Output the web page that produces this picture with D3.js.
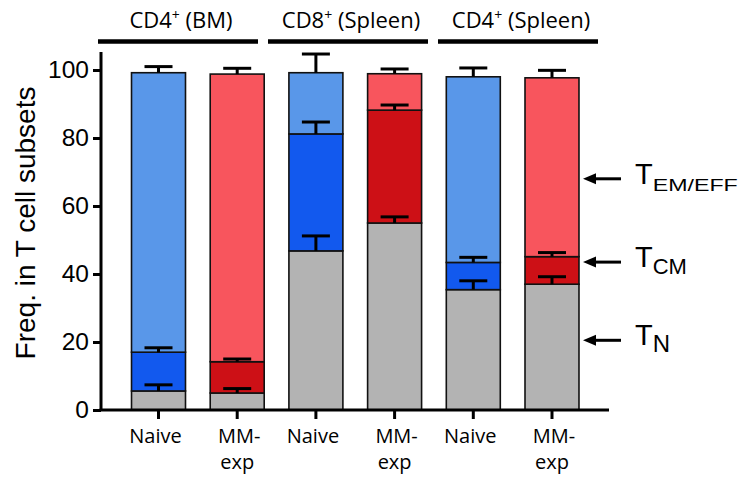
<!DOCTYPE html>
<html>
<head>
<meta charset="utf-8">
<script src="https://cdn.jsdelivr.net/npm/d3@7"></script>
<style>
  body { margin: 0; background: #fff; }
  svg { display: block; }
</style>
</head>
<body>
<svg id="chart" width="742" height="478"></svg>
<script>
// groups and bars
const groups = ['CD4', 'CD8', 'CD4'];
const groupTissue = ['(BM)', '(Spleen)', '(Spleen)'];
const conditions = ['Naive', 'MM-exp', 'Naive', 'MM-exp', 'Naive', 'MM-exp'];

// segment sizes (%), bottom to top: T_N, T_CM, T_EM/EFF
const tn = [5.6, 5.0, 46.8, 55.0, 35.4, 37.0];
const tcm = [11.4, 9.2, 34.4, 33.2, 8.0, 8.1];
const tem = [82.2, 84.6, 18.0, 10.7, 54.6, 52.6];
// error (SEM) on each segment top
const tnErr = [1.8, 1.3, 4.4, 1.8, 2.6, 2.2];
const tcmErr = [1.3, 0.8, 3.5, 1.5, 1.5, 1.2];
const temErr = [1.8, 1.7, 5.5, 1.4, 2.6, 2.2];

const yTicks = [0, 20, 40, 60, 80, 100];
const subsetLabels = [['T', 'EM/EFF'], ['T', 'CM'], ['T', 'N']];
const subsetArrowAt = [68, 43.5, 20.5];

const svg = d3.select('#chart');

const x = d3.scaleBand()
    .domain(d3.range(conditions.length))
    .range([106.8, 603.7])
    .padding(0.314);

// header bars above each group
const gx = d3.scaleBand()
    .domain(d3.range(groups.length))
    .range([98, 598])
    .paddingInner(10 / 170);

const y = d3.scaleLinear()
    .domain([0, 100])
    .range([410, 70]);

const colors = {
    Naive: ['#b3b3b3', '#1259ee', '#5997e9'],
    'MM-exp': ['#b3b3b3', '#cd1016', '#f8555d']
};

// stacked data
const rows = conditions.map((c, i) => ({
    i: i, cond: c,
    vals: [tn[i], tcm[i], tem[i]],
    errs: [tnErr[i], tcmErr[i], temErr[i]]
}));
const segs = [];
rows.forEach(r => {
    let base = 0;
    r.vals.forEach((v, k) => {
        segs.push({ i: r.i, k: k, y0: base, y1: base + v, err: r.errs[k], color: colors[r.cond][k] });
        base += v;
    });
});

// bars
svg.append('g')
    .selectAll('rect')
    .data(segs)
    .enter()
    .append('rect')
    .attr('x', d => x(d.i))
    .attr('width', x.bandwidth())
    .attr('y', d => y(d.y1))
    .attr('height', d => y(d.y0) - y(d.y1))
    .attr('fill', d => d.color)
    .attr('stroke', '#111')
    .attr('stroke-width', 1.6);

// error bars (upper only)
const eb = svg.append('g').attr('stroke', '#000').attr('stroke-width', 3);
segs.forEach(d => {
    const cx = x(d.i) + x.bandwidth() / 2;
    eb.append('line')
        .attr('x1', cx).attr('x2', cx)
        .attr('y1', y(d.y1)).attr('y2', y(d.y1 + d.err));
    eb.append('line')
        .attr('x1', cx - 14).attr('x2', cx + 14)
        .attr('y1', y(d.y1 + d.err)).attr('y2', y(d.y1 + d.err));
});

// y axis
const yAxis = svg.append('g')
    .attr('transform', 'translate(101,0)')
    .call(d3.axisLeft(y).tickValues(yTicks).tickSize(8).tickPadding(4));
yAxis.select('.domain').attr('stroke-width', 3).attr('d', `M0,${y(0)}V52`);
yAxis.selectAll('.tick line').attr('stroke-width', 3);
yAxis.selectAll('.tick text')
    .attr('font-family', 'Liberation Sans, Arial, sans-serif')
    .attr('font-size', 24.5)
    .attr('fill', '#000');

// x axis
const xAxis = svg.append('g')
    .attr('transform', `translate(0,${y(0)})`)
    .call(d3.axisBottom(x).tickSize(9).tickFormat(''));
xAxis.select('.domain').attr('stroke-width', 3).attr('d', 'M99.5,0H609');
xAxis.selectAll('.tick line').attr('stroke-width', 3);

// x labels
const xl = svg.append('g')
    .attr('font-family', 'Open Sans, sans-serif')
    .attr('font-size', 20)
    .attr('text-anchor', 'middle');
rows.forEach(r => {
    const cx = x(r.i) + x.bandwidth() / 2;
    if (r.cond === 'Naive') {
        xl.append('text').attr('x', cx - 3).attr('y', 443).text('Naive');
    } else {
        xl.append('text').attr('x', cx + 2).attr('y', 443).text('MM-');
        xl.append('text').attr('x', cx).attr('y', 469).text('exp');
    }
});

// y label
svg.append('text')
    .attr('transform', 'translate(35,223) rotate(-90)')
    .attr('text-anchor', 'middle')
    .attr('font-family', 'Liberation Sans, Arial, sans-serif')
    .attr('font-size', 28)
    .text('Freq. in T cell subsets');

// group headers
groups.forEach((g, gi) => {
    const left = gx(gi);
    const right = gx(gi) + gx.bandwidth();
    svg.append('line')
        .attr('x1', left).attr('x2', right)
        .attr('y1', 41.5).attr('y2', 41.5)
        .attr('stroke', '#000').attr('stroke-width', 4.5);
    const t = svg.append('text')
        .attr('x', (left + right) / 2 + 3)
        .attr('y', 28)
        .attr('text-anchor', 'middle')
        .attr('font-family', 'Open Sans, sans-serif')
        .attr('font-size', 22);
    t.append('tspan').text(g);
    t.append('tspan').attr('font-size', 14).attr('dy', -8).text('+');
    t.append('tspan').attr('dy', 8).text(' ' + groupTissue[gi]);
});

// subset arrows and labels on the right
const subSize = [16, 22, 24];
subsetLabels.forEach((lab, k) => {
    const yy = y(subsetArrowAt[k]);
    svg.append('line')
        .attr('x1', 592).attr('x2', 621)
        .attr('y1', yy).attr('y2', yy)
        .attr('stroke', '#000').attr('stroke-width', 3);
    svg.append('path')
        .attr('d', `M583,${yy}L596,${yy - 5.5}L596,${yy + 5.5}Z`)
        .attr('fill', '#000');
    const t = svg.append('text')
        .attr('x', 635)
        .attr('y', yy + 5)
        .attr('font-family', 'Liberation Sans, Arial, sans-serif')
        .attr('font-size', 29);
    t.append('tspan').text(lab[0]);
    const sub = t.append('tspan').attr('font-size', subSize[k]).attr('dy', 7).text(lab[1]);
    if (k === 0) sub.attr('textLength', 85).attr('lengthAdjust', 'spacingAndGlyphs');
});
</script>
</body>
</html>
